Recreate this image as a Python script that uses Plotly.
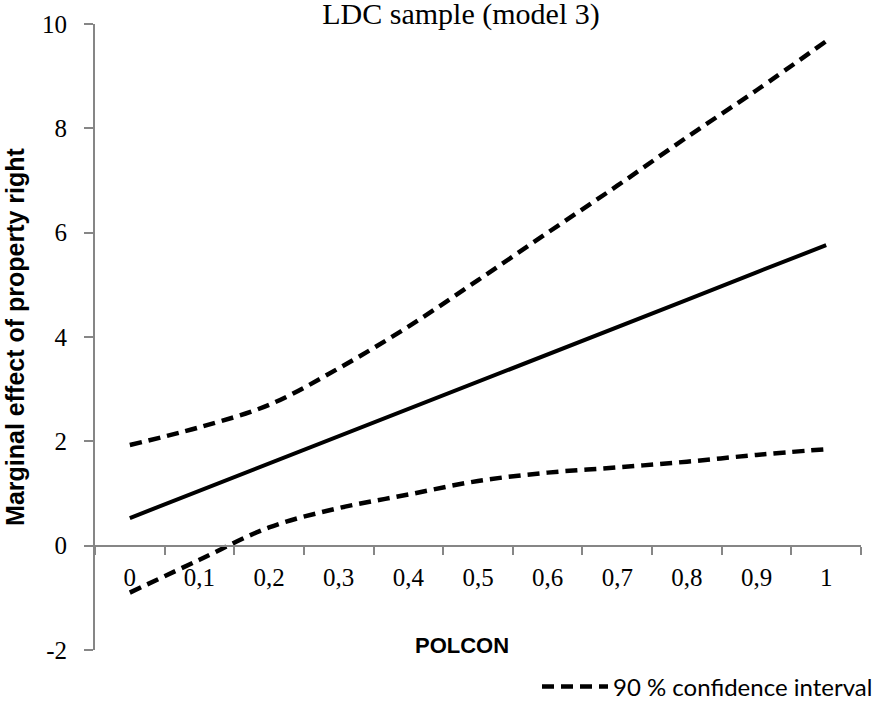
import plotly.graph_objects as go

polcon = ["0", "0,1", "0,2", "0,3", "0,4", "0,5", "0,6", "0,7", "0,8", "0,9", "1"]
marginal_effect = [0.53, 1.05, 1.58, 2.10, 2.63, 3.15, 3.67, 4.19, 4.71, 5.24, 5.76]
ci_upper = [1.93, 2.27, 2.70, 3.40, 4.20, 5.09, 6.00, 6.90, 7.83, 8.73, 9.67]
ci_lower = [-0.90, -0.27, 0.35, 0.72, 0.98, 1.24, 1.40, 1.50, 1.61, 1.74, 1.85]
y_ticks = [-2, 0, 2, 4, 6, 8, 10]
y_tick_labels = ["-2", "0", "2", "4", "6", "8", "10"]

fig = go.Figure()
fig.add_trace(go.Scatter(
    x=polcon, y=marginal_effect, mode="lines", showlegend=False,
    line=dict(color="black", width=4), name="Marginal effect"))
fig.add_trace(go.Scatter(
    x=polcon, y=ci_upper, mode="lines", name="90 % confidence interval",
    legendgroup="ci", line=dict(color="black", width=4.5, dash="12px,7px", shape="spline")))
fig.add_trace(go.Scatter(
    x=polcon, y=ci_lower, mode="lines", name="90 % confidence interval",
    legendgroup="ci", showlegend=False,
    line=dict(color="black", width=4.5, dash="12px,7px", shape="spline")))

axis_gray = "#868686"
fig.update_layout(
    width=880, height=705,
    margin=dict(l=95, r=19, t=24, b=55, autoexpand=False),
    paper_bgcolor="white", plot_bgcolor="white",
    title=dict(text="LDC sample (model 3)", x=461 / 880, xref="container",
               y=1 - 3 / 705, yref="container", xanchor="center", yanchor="top",
               pad=dict(t=0, b=0, l=0, r=0),
               font=dict(family="Liberation Serif", size=30, color="black")),
    xaxis=dict(
        type="category", range=[-0.5, 10.5], anchor="free", position=2 / 12,
        showline=True, linecolor=axis_gray, linewidth=2,
        ticks="outside", tickson="boundaries", ticklen=8, tickcolor=axis_gray, tickwidth=1.5,
        ticklabelstandoff=9,
        tickfont=dict(family="Liberation Serif", size=25, color="black"),
        showgrid=False, zeroline=False, fixedrange=True, automargin=False),
    yaxis=dict(
        range=[-2, 10], tickvals=y_ticks, ticktext=y_tick_labels,
        showline=True, linecolor=axis_gray, linewidth=2,
        ticks="outside", ticklen=9, tickcolor=axis_gray, tickwidth=1.5,
        ticklabelstandoff=12, automargin=False,
        tickfont=dict(family="Liberation Serif", size=25, color="black"),
        showgrid=False, zeroline=False,
        title=dict(text="Marginal effect of property right", standoff=10,
                   font=dict(family="Liberation Sans", size=25, color="black", weight="bold"))),
    showlegend=True,
    legend=dict(x=(537 - 95) / 766, xref="paper", xanchor="left",
                y=(650 - 687) / 626, yref="paper", yanchor="middle",
                orientation="h", bgcolor="rgba(0,0,0,0)", itemwidth=66,
                font=dict(family="Lato", size=24, color="black")),
    annotations=[dict(text="<b>POLCON</b>", x=(462 - 95) / 766, xref="paper",
                      y=(650 - 645) / 626, yref="paper", yanchor="middle", xanchor="center",
                      showarrow=False,
                      font=dict(family="Liberation Sans", size=22, color="black"))],
)

fig.write_html("out.html")
